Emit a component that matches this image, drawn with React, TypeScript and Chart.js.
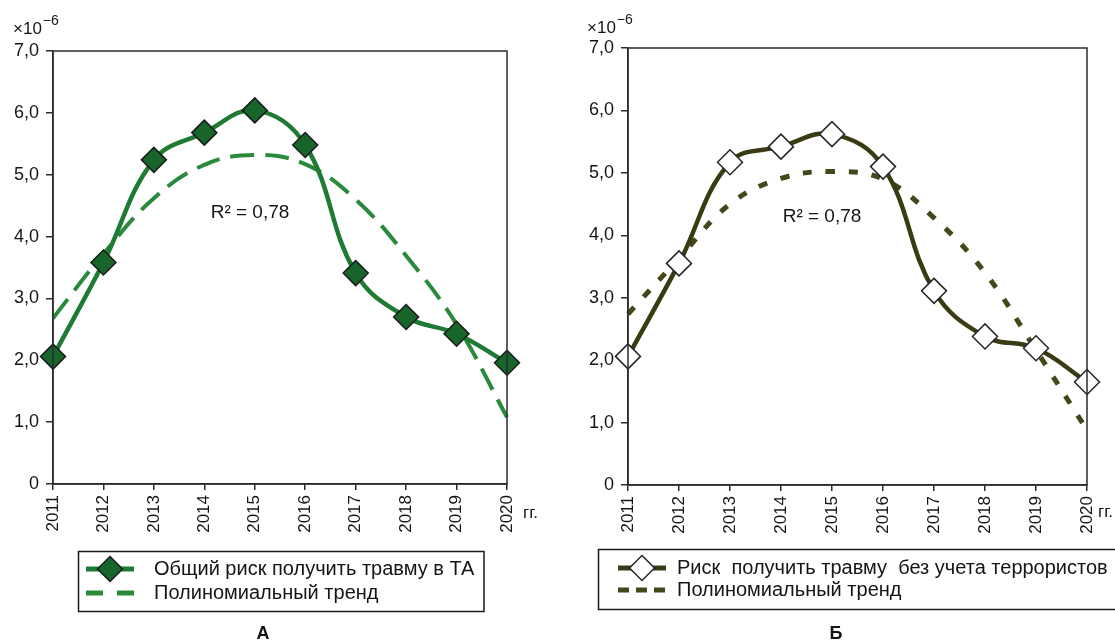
import React, { useEffect, useRef } from "react";
import { Chart, registerables } from "chart.js";

Chart.register(...registerables);

// Years on the horizontal axis
const years = ["2011", "2012", "2013", "2014", "2015", "2016", "2017", "2018", "2019", "2020"];

// Panel A: overall injury risk (×10⁻⁶) and its polynomial trend
const totalRisk = [2.06, 3.58, 5.24, 5.68, 6.04, 5.48, 3.41, 2.7, 2.43, 1.96];
const totalTrend = [2.68, 3.72, 4.62, 5.16, 5.32, 5.17, 4.6, 3.69, 2.58, 1.08];

// Panel Б: injury risk excluding terrorist acts and its polynomial trend
const riskNoTerror = [2.06, 3.55, 5.17, 5.42, 5.62, 5.1, 3.11, 2.38, 2.19, 1.65];
const noTerrorTrend = [2.74, 3.63, 4.5, 4.91, 5.02, 4.9, 4.28, 3.4, 2.16, 0.88];

// Text
const legendA = ["Общий риск получить травму в ТА", "Полиномиальный тренд"];
const legendB = ["Риск  получить травму  без учета террористов", "Полиномиальный тренд"];
const r2Text = "R² = 0,78";
const unitBase = "×10";
const unitExp = "−6";
const yearSuffix = "гг.";

const FONT = "'Liberation Sans', Arial, Helvetica, sans-serif";
const AXIS_COLOR = "#2b2b2b";
const TEXT_COLOR = "#151515";

type Panel = {
  left: number;
  width: number;
  area: { left: number; right: number; top: number; bottom: number };
  series: number[];
  trend: number[];
  seriesLabel: string;
  trendLabel: string;
  lineColor: string;
  trendColor: string;
  markerFill: string;
  markerBorder: string;
  trendDash: number[];
  trendWidth: number;
  legendDash: number[];
  legendBox: [number, number, number, number];
  legendRows: [number, number];
  legendSample: [number, number];
  legendTextX: number;
  r2At: [number, number];
  unitAt: [number, number];
  suffixAt: [number, number];
  caption: string;
  captionAt: [number, number];
};

const H = 641;
const X_AXIS_H = 60;
const MARKER_R = 12.5;

const panels: Panel[] = [
  {
    left: 0,
    width: 560,
    area: { left: 53, right: 507, top: 51, bottom: 484 },
    series: totalRisk,
    trend: totalTrend,
    seriesLabel: legendA[0],
    trendLabel: legendA[1],
    lineColor: "#1f7a34",
    trendColor: "#2a8a3c",
    markerFill: "#17652b",
    markerBorder: "#1a1a1a",
    trendDash: [24, 11],
    trendWidth: 4,
    legendDash: [17, 14],
    legendBox: [78.5, 551.5, 484, 611.5],
    legendRows: [569, 593],
    legendSample: [86, 134],
    legendTextX: 154,
    r2At: [250, 213],
    unitAt: [13, 34],
    suffixAt: [523, 513],
    caption: "А",
    captionAt: [263, 634],
  },
  {
    left: 560,
    width: 555,
    area: { left: 68, right: 527, top: 48, bottom: 485 },
    series: riskNoTerror,
    trend: noTerrorTrend,
    seriesLabel: legendB[0],
    trendLabel: legendB[1],
    lineColor: "#3a3b12",
    trendColor: "#45461a",
    markerFill: "#ffffff",
    markerBorder: "#262626",
    trendDash: [9, 14],
    trendWidth: 5,
    legendDash: [11, 7],
    legendBox: [38.5, 549.5, 570, 609.5],
    legendRows: [568, 590],
    legendSample: [58, 106],
    legendTextX: 117,
    r2At: [262, 217],
    unitAt: [27, 33],
    suffixAt: [538, 512],
    caption: "Б",
    captionAt: [276, 634],
  },
];

function drawDiamond(ctx: CanvasRenderingContext2D, x: number, y: number, r: number, fill: string, stroke: string) {
  ctx.beginPath();
  ctx.moveTo(x, y - r);
  ctx.lineTo(x + r, y);
  ctx.lineTo(x, y + r);
  ctx.lineTo(x - r, y);
  ctx.closePath();
  ctx.fillStyle = fill;
  ctx.fill();
  ctx.lineWidth = 1.5;
  ctx.strokeStyle = stroke;
  ctx.stroke();
}

function makeDecorations(p: Panel) {
  return {
    id: "panelDecorations",
    afterDraw(chart: Chart) {
      const ctx = chart.ctx;
      const a = chart.chartArea;
      ctx.save();

      // frame around the plot area
      ctx.strokeStyle = AXIS_COLOR;
      ctx.lineWidth = 1.5;
      ctx.strokeRect(a.left, a.top, a.right - a.left, a.bottom - a.top);

      // multiplier above the value axis
      ctx.fillStyle = TEXT_COLOR;
      ctx.textAlign = "left";
      ctx.textBaseline = "alphabetic";
      ctx.font = `17px ${FONT}`;
      ctx.fillText(unitBase, p.unitAt[0], p.unitAt[1]);
      const bw = ctx.measureText(unitBase).width;
      ctx.font = `14px ${FONT}`;
      ctx.fillText(unitExp, p.unitAt[0] + bw + 1, p.unitAt[1] - 9);

      // coefficient of determination
      ctx.font = `19px ${FONT}`;
      ctx.textAlign = "center";
      ctx.textBaseline = "middle";
      ctx.fillText(r2Text, p.r2At[0], p.r2At[1]);

      // year unit after the last tick label
      ctx.font = `17px ${FONT}`;
      ctx.textAlign = "left";
      ctx.fillText(yearSuffix, p.suffixAt[0], p.suffixAt[1]);

      // legend
      const [bx1, by1, bx2, by2] = p.legendBox;
      ctx.strokeStyle = "#1a1a1a";
      ctx.lineWidth = 1.5;
      ctx.strokeRect(bx1, by1, bx2 - bx1, by2 - by1);

      const [sx1, sx2] = p.legendSample;
      const [r1, r2] = p.legendRows;
      ctx.lineCap = "butt";
      ctx.strokeStyle = p.lineColor;
      ctx.lineWidth = 5;
      ctx.beginPath();
      ctx.moveTo(sx1, r1);
      ctx.lineTo(sx2, r1);
      ctx.stroke();
      drawDiamond(ctx, (sx1 + sx2) / 2, r1, MARKER_R, p.markerFill, p.markerBorder);

      ctx.strokeStyle = p.trendColor;
      ctx.lineWidth = 5;
      ctx.setLineDash(p.legendDash);
      ctx.beginPath();
      ctx.moveTo(sx1, r2);
      ctx.lineTo(sx2, r2);
      ctx.stroke();
      ctx.setLineDash([]);

      ctx.fillStyle = TEXT_COLOR;
      ctx.font = `20px ${FONT}`;
      ctx.textAlign = "left";
      ctx.textBaseline = "middle";
      ctx.fillText(p.seriesLabel, p.legendTextX, r1);
      ctx.fillText(p.trendLabel, p.legendTextX, r2);

      // panel caption
      ctx.font = `bold 18px ${FONT}`;
      ctx.textAlign = "center";
      ctx.fillText(p.caption, p.captionAt[0], p.captionAt[1]);

      ctx.restore();
    },
  };
}

function formatTick(v: number | string) {
  const n = Number(v);
  return n === 0 ? "0" : n.toFixed(1).replace(".", ",");
}

function PanelChart({ p }: { p: Panel }) {
  const ref = useRef<HTMLCanvasElement | null>(null);

  useEffect(() => {
    if (!ref.current) return;
    const chart = new Chart(ref.current, {
      type: "line",
      data: {
        labels: years,
        datasets: [
          {
            label: p.seriesLabel,
            data: p.series,
            borderColor: p.lineColor,
            borderWidth: 4.5,
            tension: 0.4,
            pointStyle: "rectRot",
            pointRadius: MARKER_R,
            pointBackgroundColor: p.markerFill,
            pointBorderColor: p.markerBorder,
            pointBorderWidth: 1.5,
            fill: false,
          },
          {
            label: p.trendLabel,
            data: p.trend,
            borderColor: p.trendColor,
            borderWidth: p.trendWidth,
            borderDash: p.trendDash,
            tension: 0.4,
            pointRadius: 0,
            fill: false,
          },
        ],
      },
      options: {
        responsive: false,
        maintainAspectRatio: false,
        animation: false,
        events: [],
        layout: {
          padding: {
            left: 0,
            top: p.area.top,
            right: p.width - p.area.right,
            bottom: H - p.area.bottom - X_AXIS_H,
          },
        },
        plugins: {
          legend: { display: false },
          tooltip: { enabled: false },
          title: { display: false },
        },
        scales: {
          x: {
            type: "category",
            offset: false,
            grid: {
              display: true,
              drawOnChartArea: false,
              drawTicks: true,
              tickLength: 6,
              color: AXIS_COLOR,
              lineWidth: 1.5,
            },
            border: { display: true, color: AXIS_COLOR, width: 1.5 },
            ticks: {
              autoSkip: false,
              minRotation: 90,
              maxRotation: 90,
              padding: 5,
              color: TEXT_COLOR,
              font: { family: FONT, size: 17 },
            },
            afterFit: (s: any) => {
              s.height = X_AXIS_H;
              s.paddingLeft = 0;
              s.paddingRight = 0;
            },
          },
          y: {
            min: 0,
            max: 7,
            grid: {
              display: true,
              drawOnChartArea: false,
              drawTicks: true,
              tickLength: 7,
              color: AXIS_COLOR,
              lineWidth: 1.5,
            },
            border: { display: true, color: AXIS_COLOR, width: 1.5 },
            ticks: {
              stepSize: 1,
              padding: 7,
              color: TEXT_COLOR,
              font: { family: FONT, size: 18 },
              callback: (v: number | string) => formatTick(v),
            },
            afterFit: (s: any) => {
              s.width = p.area.left;
              s.paddingTop = 0;
              s.paddingBottom = 0;
            },
          },
        },
      },
      plugins: [makeDecorations(p)],
    });
    return () => chart.destroy();
  }, [p]);

  return (
    <canvas
      ref={ref}
      width={p.width}
      height={H}
      style={{ position: "absolute", left: p.left, top: 0, width: p.width, height: H }}
    />
  );
}

export default function App() {
  return (
    <div
      style={{
        position: "fixed",
        left: 0,
        top: 0,
        width: 1115,
        height: H,
        background: "#ffffff",
        overflow: "hidden",
      }}
    >
      {panels.map((p) => (
        <PanelChart key={p.caption} p={p} />
      ))}
    </div>
  );
}
